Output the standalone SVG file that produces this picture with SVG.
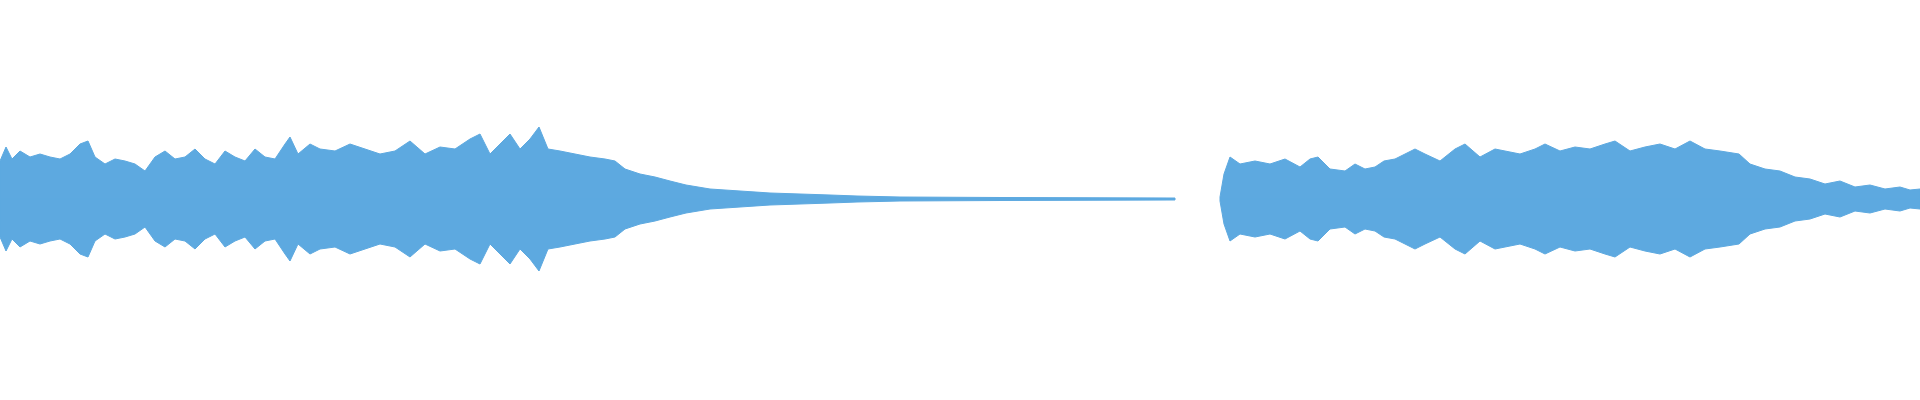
<svg xmlns="http://www.w3.org/2000/svg" width="1920" height="400" viewBox="0 0 1920 400">
<style>.w{fill:#5DA9E0;stroke:#5DA9E0;stroke-width:1}</style>
<rect width="1920" height="400" fill="#fff"/>
<defs>
<path id="L" d="M0,199 L0,161 6,147 12,159 20,151 30,157 40,154 50,157 60,159 70,154 80,144 88,141 95,157 105,164 115,159 125,161 135,164 145,171 155,157 165,151 175,159 185,157 195,149 205,159 215,164 225,151 235,157 245,161 255,149 265,157 275,159 285,144 290,137 298,154 310,144 320,149 335,151 350,144 365,149 380,154 395,151 410,141 425,154 440,147 455,149 470,139 480,134 490,154 500,144 510,134 520,149 530,139 539,127 548,149 560,151 575,154 590,157 605,159 615,161 625,169 640,174 655,177 670,181 686,185 710,189 740,191 770,193 800,194 830,195 857,196 900,197 1000,197.5 1175,198 L1175,199 Z"/>
<path id="R" d="M1220,199 L1220,197 1224,174 1230,157 1240,164 1255,161 1270,164 1285,159 1300,167 1310,159 1318,157 1330,169 1345,171 1355,164 1365,169 1375,167 1384,161 1395,159 1405,154 1415,149 1425,154 1440,161 1455,149 1465,144 1480,157 1495,149 1505,151 1520,154 1535,149 1545,144 1560,151 1575,147 1590,149 1605,144 1615,141 1630,151 1645,147 1660,144 1675,149 1690,141 1705,149 1720,151 1739,154 1750,164 1765,169 1780,171 1795,177 1810,179 1825,184 1840,181 1855,187 1870,185 1885,189 1900,187 1910,190 1920,189 L1920,199 Z"/>
</defs>
<g id="waveform">
<use href="#L" class="w"/><use href="#L" class="w" transform="translate(0,398) scale(1,-1)"/>
<use href="#R" class="w"/><use href="#R" class="w" transform="translate(0,398) scale(1,-1)"/>
</g>
</svg>
